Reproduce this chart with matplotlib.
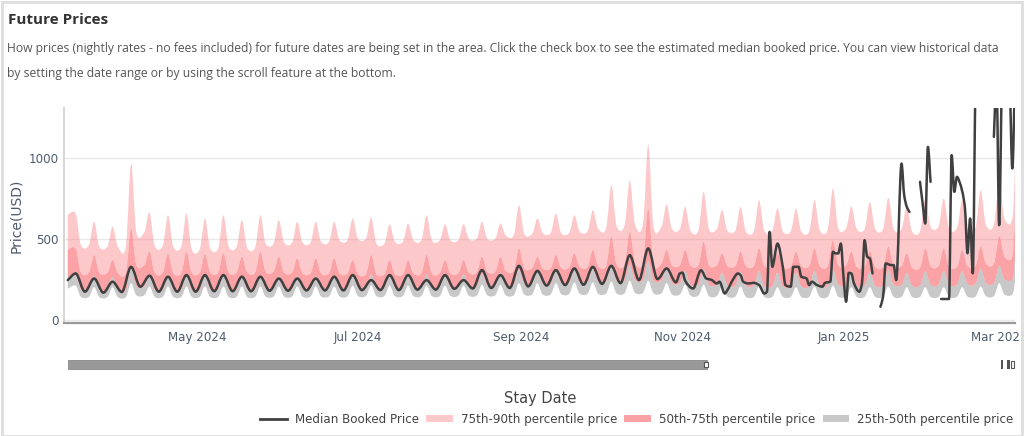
import numpy as np
import pandas as pd
import matplotlib
matplotlib.use("Agg")
import matplotlib.pyplot as plt
import matplotlib.dates as mdates
from matplotlib.lines import Line2D
from matplotlib.patches import Patch, Rectangle, PathPatch
from matplotlib.path import Path

# weekly (Saturday) peaks and midweek troughs, Mar 16 2024 .. Mar 1 2025
week_starts = pd.date_range("2024-03-16", periods=51, freq="7D")
first_day = pd.Timestamp("2024-03-13")
last_day = pd.Timestamp("2025-03-07")

p90_peak = [655, 605, 575, 965, 662, 645, 656, 625, 645, 615, 645, 615, 605, 605, 605, 625, 631,
            590, 594, 645, 590, 590, 605, 594, 707, 625, 656, 645, 677, 831, 862, 1082, 711, 697,
            790, 677, 697, 738, 687, 687, 738, 810, 701, 728, 755, 700, 749, 749, 739, 800, 850]
p90_trough = [460, 450, 450, 540, 456, 450, 433, 440, 450, 445, 470, 475, 475, 480, 490, 500, 470,
              480, 490, 490, 490, 500, 500, 520, 530, 535, 535, 545, 562, 580, 590, 575, 560, 550,
              560, 550, 545, 550, 545, 545, 555, 565, 560, 560, 560, 545, 575, 565, 565, 585, 625]
p75_peak = [440, 399, 368, 563, 419, 409, 419, 405, 409, 388, 419, 388, 378, 378, 378, 368, 399,
            368, 368, 399, 368, 368, 388, 388, 440, 388, 399, 409, 430, 512, 543, 687, 430, 430,
            480, 409, 420, 440, 409, 420, 440, 491, 420, 420, 451, 410, 440, 440, 430, 451, 515]
p75_trough = [290, 288, 288, 337, 288, 286, 288, 290, 290, 290, 295, 290, 285, 285, 285, 280, 280,
              280, 285, 285, 285, 290, 295, 300, 317, 315, 320, 325, 330, 340, 350, 345, 335, 335,
              335, 330, 330, 330, 325, 330, 330, 335, 325, 325, 330, 320, 330, 325, 330, 345, 390]
p50_peak = [280, 270, 265, 316, 275, 275, 275, 275, 275, 270, 275, 270, 270, 270, 270, 275, 280,
            275, 275, 280, 275, 280, 285, 290, 306, 300, 300, 305, 310, 325, 335, 360, 310, 300,
            310, 290, 295, 300, 290, 290, 300, 310, 295, 295, 305, 290, 300, 300, 300, 315, 330]
p50_trough = [185, 180, 180, 205, 182, 182, 182, 185, 185, 185, 190, 190, 190, 195, 195, 195, 195,
              195, 200, 200, 200, 205, 210, 210, 220, 220, 225, 230, 235, 240, 245, 240, 225, 215,
              215, 210, 210, 205, 205, 205, 210, 215, 210, 210, 215, 210, 215, 215, 220, 225, 250]
p25_peak = [210, 200, 200, 225, 205, 205, 205, 205, 205, 205, 205, 205, 205, 205, 205, 210, 210,
            210, 210, 210, 210, 210, 215, 215, 225, 225, 225, 230, 230, 235, 240, 240, 225, 215,
            215, 205, 205, 205, 200, 200, 205, 210, 200, 200, 205, 200, 200, 200, 200, 205, 225]
p25_trough = [140, 138, 138, 150, 140, 140, 140, 140, 140, 140, 142, 142, 142, 143, 143, 145, 145,
              145, 145, 145, 147, 148, 150, 150, 155, 155, 158, 160, 160, 162, 165, 162, 155, 148,
              145, 142, 140, 140, 140, 140, 140, 142, 140, 140, 140, 140, 140, 140, 142, 145, 155]
band_first = {"p90": 650, "p75": 430, "p50": 260, "p25": 190}
band_last = {"p90": 975, "p75": 640, "p50": 378, "p25": 234}

# median booked price: weekly part Mar-Oct, then day by day (None = no data)
med_peak = [285, 254, 234, 326, 271, 265, 275, 275, 275, 265, 265, 254, 254, 254, 265, 275, 244,
            275, 275, 244, 275, 244, 306, 275, 332, 301, 306, 316, 326, 332, 398, 440, 316]
med_trough = [172, 166, 170, 203, 172, 172, 172, 175, 175, 175, 178, 178, 180, 180, 180, 182, 182,
              182, 185, 185, 190, 192, 195, 195, 205, 210, 213, 215, 220, 225, 244, 250, 230]
med_first = 244
med_days = ["2024-10-31", "2024-11-01", "2024-11-02", "2024-11-05", "2024-11-08", "2024-11-10",
            "2024-11-12", "2024-11-14", "2024-11-15", "2024-11-17", "2024-11-18", "2024-11-20",
            "2024-11-22", "2024-11-23", "2024-11-24", "2024-11-26", "2024-11-28", "2024-11-30",
            "2024-12-02", "2024-12-03", "2024-12-04", "2024-12-05", "2024-12-07", "2024-12-09",
            "2024-12-10", "2024-12-12", "2024-12-13", "2024-12-15", "2024-12-16", "2024-12-18",
            "2024-12-19", "2024-12-20", "2024-12-22", "2024-12-24", "2024-12-25", "2024-12-27",
            "2024-12-28", "2024-12-29", "2024-12-30", "2024-12-31", "2025-01-01", "2025-01-02",
            "2025-01-03", "2025-01-04", "2025-01-05", "2025-01-07", "2025-01-08", "2025-01-09",
            "2025-01-10", "2025-01-11", "2025-01-12", "2025-01-13", "2025-01-15", "2025-01-16",
            "2025-01-17", "2025-01-19", "2025-01-20", "2025-01-21", "2025-01-23", "2025-01-24",
            "2025-01-25", "2025-01-26", "2025-01-28", "2025-01-30", "2025-01-31", "2025-02-01",
            "2025-02-02", "2025-02-03", "2025-02-05", "2025-02-07", "2025-02-10", "2025-02-11",
            "2025-02-12", "2025-02-13", "2025-02-14", "2025-02-16", "2025-02-17", "2025-02-18",
            "2025-02-19", "2025-02-20", "2025-02-24", "2025-02-27", "2025-02-28", "2025-03-01",
            "2025-03-02", "2025-03-04", "2025-03-05", "2025-03-06", "2025-03-07"]
med_vals = [285, 290, 240, 192, 305, 254,
            245, 223, 234, 161, 182, 244,
            285, 275, 234, 223, 227, 213,
            161, 172, 542, 326, 470, 326,
            213, 203, 326, 326, 265, 254,
            213, 234, 213, 203, 227, 234,
            419, 409, 409, 470, 265, 110,
            289, 285, 223, 172, 223, 491,
            388, 378, 285, None, 79, 141,
            347, 337, 337, 244, 965, 770,
            697, 666, None, 852, 718, 594,
            1068, 852, None, 127, 127, 1017,
            790, 883, 850, 697, 410, 625,
            286, 1500, None, 1130, 1500, 584,
            1500, None, 1500, 935, 1500]

tick_dates = ["2024-05-01", "2024-07-01", "2024-09-01", "2024-11-01", "2025-01-01", "2025-03-01"]
tick_labels = ["May 2024", "Jul 2024", "Sep 2024", "Nov 2024", "Jan 2025", "Mar 2025"]


def weekly_series(first, peaks, troughs, last, offsets):
    dates = [first_day]
    vals = [first]
    for d, p, t in zip(week_starts, peaks, troughs):
        dates.append(d)
        vals.append(p)
        for off in offsets:
            dates.append(d + pd.Timedelta(days=off))
            vals.append(t)
    if last is not None:
        dates.append(last_day)
        vals.append(last)
    return pd.Series(vals, index=pd.DatetimeIndex(dates))


def catmull_verts(x, y):
    # Catmull-Rom spline through the points as cubic bezier pieces
    pts = np.column_stack([x, y])
    n = len(pts)
    verts = [pts[0]]
    for i in range(n - 1):
        p0 = pts[i - 1] if i > 0 else pts[i]
        p1, p2 = pts[i], pts[i + 1]
        p3 = pts[i + 2] if i + 2 < n else pts[i + 1]
        verts += [p1 + (p2 - p0) / 6, p2 - (p3 - p1) / 6, p2]
    return np.array(verts)


def pchip_verts(x, y):
    # monotone spline (no overshoot) as cubic bezier pieces
    n = len(x)
    h = np.diff(x)
    d = np.diff(y) / h
    m = np.zeros(n)
    for i in range(1, n - 1):
        if d[i - 1] * d[i] > 0:
            w1 = 2 * h[i] + h[i - 1]
            w2 = h[i] + 2 * h[i - 1]
            m[i] = (w1 + w2) / (w1 / d[i - 1] + w2 / d[i])
    m[0], m[-1] = d[0], d[-1]
    verts = [(x[0], y[0])]
    for i in range(n - 1):
        verts += [(x[i] + h[i] / 3, y[i] + m[i] * h[i] / 3),
                  (x[i + 1] - h[i] / 3, y[i + 1] - m[i + 1] * h[i] / 3),
                  (x[i + 1], y[i + 1])]
    return np.array(verts)


def spline_line(ax, s, **kw):
    x = mdates.date2num(s.index)
    y = s.values.astype(float)
    ok = ~np.isnan(y)
    start = None
    for i in range(len(y) + 1):
        if i < len(y) and ok[i]:
            if start is None:
                start = i
        elif start is not None:
            if i - start >= 2:
                v = pchip_verts(x[start:i], y[start:i])
                codes = [Path.MOVETO] + [Path.CURVE4] * (len(v) - 1)
                ax.add_patch(PathPatch(Path(v, codes), fill=False, **kw))
            start = None


def spline_band(ax, lower, upper, **kw):
    x = mdates.date2num(upper.index)
    top = catmull_verts(x, upper.values.astype(float))
    bot = catmull_verts(x[::-1], lower.values.astype(float)[::-1])
    v = np.vstack([top, bot, top[:1]])
    codes = ([Path.MOVETO] + [Path.CURVE4] * (len(top) - 1) + [Path.LINETO]
             + [Path.CURVE4] * (len(bot) - 1) + [Path.CLOSEPOLY])
    ax.add_patch(PathPatch(Path(v, codes), lw=0, **kw))


band_offsets = (2, 5)
p90 = weekly_series(band_first["p90"], p90_peak, p90_trough, band_last["p90"], band_offsets)
p75 = weekly_series(band_first["p75"], p75_peak, p75_trough, band_last["p75"], band_offsets)
p50 = weekly_series(band_first["p50"], p50_peak, p50_trough, band_last["p50"], band_offsets)
p25 = weekly_series(band_first["p25"], p25_peak, p25_trough, band_last["p25"], band_offsets)

med_a = weekly_series(med_first, med_peak, med_trough, None, (3.5,))
med_b = pd.Series(np.array(med_vals, dtype=float), index=pd.to_datetime(med_days))
median = pd.concat([med_a, med_b])

pink = "#f8767b"
grey_fill = "#8c8c8c"
tick_col = "#4d5b6e"

fig = plt.figure(figsize=(10.24, 4.36), dpi=100)
fig.patches.append(Rectangle((0.002, 0.0), 0.996, 0.995, transform=fig.transFigure,
                             fill=False, edgecolor="#dedede", linewidth=2))

fig.text(0.008, 0.953, "Future Prices", fontsize=11, fontweight="bold", color="#333333",
         family="Open Sans", va="center")
fig.text(0.007, 0.889,
         "How prices (nightly rates - no fees included) for future dates are being set in the area. "
         "Click the check box to see the estimated median booked price. You can view historical data",
         fontsize=8.7, color="#555555", family="Open Sans", va="center")
fig.text(0.007, 0.832, "by setting the date range or by using the scroll feature at the bottom.",
         fontsize=8.7, color="#555555", family="Open Sans", va="center")

ax = fig.add_axes([0.0625, 0.259, 0.9287, 0.493])
spline_band(ax, p75, p90, color=pink, alpha=0.4)
spline_band(ax, p50, p75, color=pink, alpha=0.68)
spline_band(ax, p25, p50, color=grey_fill, alpha=0.47)
spline_line(ax, median, edgecolor="#404040", lw=1.8, joinstyle="round", capstyle="round")

ax.set_ylim(-22, 1308)
ax.set_xlim(mdates.date2num(pd.Timestamp("2024-03-11 14:00")),
            mdates.date2num(pd.Timestamp("2025-03-07 00:00")))
ax.set_yticks([0, 500, 1000])
ax.set_xticks(mdates.date2num(pd.to_datetime(tick_dates)))
ax.set_xticklabels(tick_labels)
ax.tick_params(axis="both", length=0, labelsize=8.6, labelcolor=tick_col)
ax.tick_params(axis="x", pad=6)
ax.tick_params(axis="y", pad=4)
ax.grid(axis="y", color="#e8e8e8", lw=1)
ax.set_axisbelow(True)
for s in ["top", "right"]:
    ax.spines[s].set_visible(False)
ax.spines["left"].set_color("#d0d0d0")
ax.spines["left"].set_linewidth(1.2)
ax.spines["bottom"].set_color("#999999")
ax.spines["bottom"].set_linewidth(1.6)
ax.set_ylabel("Price(USD)", fontsize=10, color="#4d5b6e", labelpad=4)

# range slider under the axis
fig.patches.append(Rectangle((68 / 1024, 1 - 369 / 436), (707 - 68) / 1024, 9 / 436,
                             transform=fig.transFigure, facecolor="#999999", edgecolor="#888888", lw=0.6))
fig.patches.append(Rectangle((704 / 1024, 1 - 367 / 436), 4 / 1024, 5 / 436,
                             transform=fig.transFigure, facecolor="white", edgecolor="#555555", lw=0.8))
fig.patches.append(Rectangle((1001 / 1024, 1 - 369 / 436), 1.5 / 1024, 9 / 436,
                             transform=fig.transFigure, facecolor="#555555", lw=0))
fig.patches.append(Rectangle((1007 / 1024, 1 - 369 / 436), 3 / 1024, 9 / 436,
                             transform=fig.transFigure, facecolor="#555555", lw=0))
fig.patches.append(Rectangle((1011 / 1024, 1 - 368 / 436), 3 / 1024, 7 / 436,
                             transform=fig.transFigure, facecolor="white", edgecolor="#555555", lw=0.8))

fig.text(0.528, 1 - 398 / 436, "Stay Date", fontsize=10.5, color="#444444", ha="center", va="center")

handles = [Line2D([], [], color="#404040", lw=2),
           Patch(facecolor=pink, alpha=0.4, lw=0),
           Patch(facecolor=pink, alpha=0.68, lw=0),
           Patch(facecolor=grey_fill, alpha=0.47, lw=0)]
labels = ["Median Booked Price", "75th-90th percentile price", "50th-75th percentile price",
          "25th-50th percentile price"]
fig.legend(handles, labels, loc="center", bbox_to_anchor=(0.622, 1 - 419 / 436), ncol=4,
           frameon=False, fontsize=8.6, labelcolor="#444444", handlelength=2.2, handleheight=0.5,
           columnspacing=0.6, handletextpad=0.7)

fig.savefig("out.png", dpi=100)
